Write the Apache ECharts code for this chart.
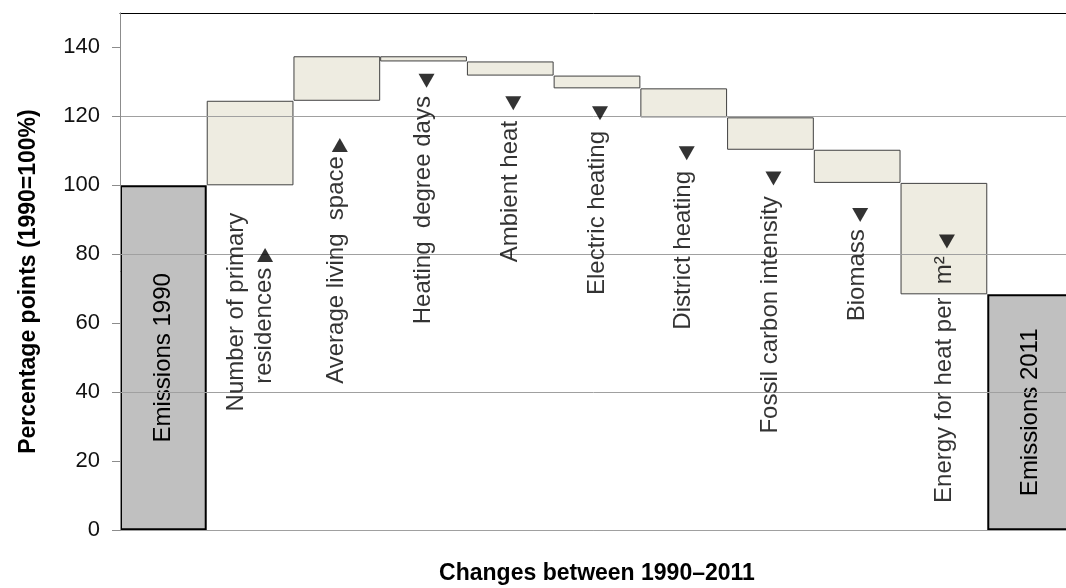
<!DOCTYPE html>
<html>
<head>
<meta charset="utf-8">
<script src="https://cdn.jsdelivr.net/npm/echarts@6/dist/echarts.min.js"></script>
<style>
html, body { margin: 0; padding: 0; background: #fff; }
#echart { width: 1066px; height: 588px; }
</style>
</head>
<body>
<div id="echart"></div>
<script>
// waterfall steps (percentage points, 1990 = 100)
var categories = ['Emissions 1990', 'Number of primary residences', 'Average living space', 'Heating degree days',
	'Ambient heat', 'Electric heating', 'District heating', 'Fossil carbon intensity', 'Biomass',
	'Energy for heat per m²', 'Emissions 2011'];
var stepLow = [0, 100, 124.5, 135.9, 131.8, 128.1, 119.7, 110.3, 100.7, 68.4, 0];
var stepHigh = [100, 124.5, 137.4, 137.4, 135.9, 131.8, 128.1, 119.7, 110.3, 100.7, 68.4];
var isTotal = [true, false, false, false, false, false, false, false, false, false, true];

// rotated captions under the steps, and the arrows above them
var labelText = ['Emissions 1990', 'Number of primary\nresidences', 'Average living  space', 'Heating  degree days',
	'Ambient heat', 'Electric heating', 'District heating', 'Fossil carbon intensity', 'Biomass',
	'Energy for heat per  m²', 'Emissions 2011'];
var labelTop = [null, 90.9, 107.3, 124.7, 117.5, 114.6, 103.0, 95.7, 86.1, 78.3, null];
var arrowY = [null, 79.8, 111.7, 130.3, 123.8, 120.9, 109.3, 102.0, 91.4, 83.7, null];
var arrowUp = [null, true, true, false, false, false, false, false, false, false, null];

var yTicks = [0, 20, 40, 60, 80, 100, 120, 140];

var font = 'Liberation Sans, Arial, sans-serif';

var deltaData = [];
var labelData = [];
var arrowData = [];
for (var i = 0; i < categories.length; i++) {
	deltaData.push({
		value: stepHigh[i] - stepLow[i],
		itemStyle: isTotal[i]
			? { color: '#c0c0c0', borderColor: '#000', borderWidth: 2 }
			: { color: '#eeece1', borderColor: '#404040', borderWidth: 1 },
		label: {
			show: isTotal[i],
			formatter: labelText[i]
		}
	});
	if (labelTop[i] != null) {
		labelData.push({ name: labelText[i], value: [i, labelTop[i]] });
	}
	if (arrowY[i] != null) {
		var twoLines = labelText[i].indexOf('\n') > -1;
		arrowData.push({
			value: [i, arrowY[i]],
			symbolRotate: arrowUp[i] ? 0 : 180,
			symbolOffset: [twoLines ? 15 : 3, 0]
		});
	}
}

var myChart = echarts.init(document.getElementById('echart'));
myChart.setOption({
	animation: false,
	grid: {
		left: 120,
		top: 12.8,
		width: 954,
		height: 517.5,
		outerBoundsMode: 'none',
		containLabel: false
	},
	xAxis: [{
		type: 'category',
		data: categories,
		name: 'Changes between 1990–2011',
		nameLocation: 'middle',
		nameGap: 32,
		nameTextStyle: { fontFamily: font, fontSize: 23, fontWeight: 'bold', color: '#000' },
		axisLine: { lineStyle: { color: '#a0a0a0', width: 1 } },
		axisTick: { show: false },
		axisLabel: { show: false },
		splitLine: { show: false }
	}, {
		type: 'category',
		data: categories,
		position: 'top',
		axisLine: { show: true, lineStyle: { color: '#000', width: 1 } },
		axisTick: { show: false },
		axisLabel: { show: false },
		splitLine: { show: false }
	}],
	yAxis: {
		type: 'value',
		min: 0,
		max: 150,
		interval: 10,
		z: 5,
		name: 'Percentage points (1990=100%)',
		nameLocation: 'middle',
		nameRotate: 90,
		nameGap: 80,
		nameTextStyle: { fontFamily: font, fontSize: 23, fontWeight: 'bold', color: '#000', padding: [0, 20, 0, 0] },
		axisLine: { show: true, lineStyle: { color: '#8c8c8c', width: 1 } },
		axisTick: { show: true, length: 8, customValues: yTicks, lineStyle: { color: '#8c8c8c' } },
		axisLabel: { customValues: yTicks, fontFamily: font, fontSize: 22, color: '#111', margin: 20 },
		splitLine: {
			show: true,
			lineStyle: {
				color: ['#a0a0a0', 'rgba(0,0,0,0)'],
				width: 1
			}
		}
	},
	series: [{
		name: 'base',
		type: 'bar',
		stack: 'w',
		silent: true,
		barCategoryGap: '0%',
		itemStyle: { color: 'rgba(0,0,0,0)' },
		data: stepLow
	}, {
		name: 'change',
		type: 'bar',
		stack: 'w',
		barCategoryGap: '0%',
		label: {
			position: 'inside',
			rotate: 90,
			fontFamily: font,
			fontSize: 24,
			color: '#000'
		},
		data: deltaData
	}, {
		name: 'captions',
		type: 'scatter',
		symbolSize: 0,
		z: 6,
		label: {
			show: true,
			position: 'inside',
			rotate: 90,
			align: 'right',
			verticalAlign: 'middle',
			offset: [4, 0],
			fontFamily: font,
			fontSize: 24,
			lineHeight: 28,
			color: '#000',
			formatter: function(p) {
				// second line ends lower than the first, as in the source
				return p.name.indexOf('\n') > -1 ? p.name + '{gap| }' : p.name;
			},
			rich: {
				gap: { width: 55, fontSize: 24 }
			}
		},
		data: labelData
	}, {
		name: 'arrows',
		type: 'scatter',
		symbol: 'triangle',
		symbolSize: [16, 14],
		z: 6,
		itemStyle: { color: '#000' },
		data: arrowData
	}]
});
</script>
</body>
</html>
